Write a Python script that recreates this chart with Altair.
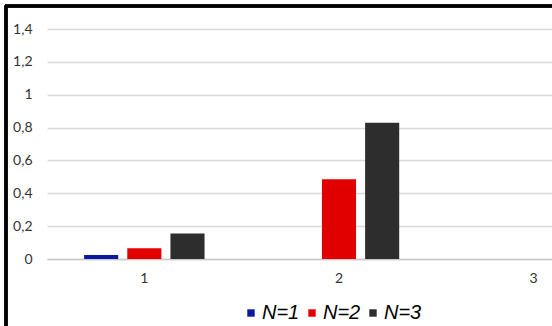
import altair as alt
import pandas as pd

# Categories on the x axis and the three series
categories = ["1", "2", "3"]
series = ["N=1", "N=2", "N=3"]
colors = ["#0A1AA0", "#E00000", "#2D2D2D"]

# Bar heights per series, one value per category
values_n1 = [0.025, 0.0, 0.0]
values_n2 = [0.065, 0.485, 0.0]
values_n3 = [0.155, 0.83, 0.0]

rows = []
for name, vals in zip(series, [values_n1, values_n2, values_n3]):
    for cat, v in zip(categories, vals):
        rows.append({"cat": cat, "series": name, "value": v})
df = pd.DataFrame(rows)

W, H = 507, 230

bars = alt.Chart(df).mark_bar().encode(
    x=alt.X(
        "cat:N",
        sort=categories,
        scale=alt.Scale(range=[2, 586], paddingInner=0, paddingOuter=0),
        axis=alt.Axis(
            title=None, labelAngle=0, ticks=False, domain=True,
            domainColor="#C8C8C8", domainWidth=1.3,
            labelFont="Lato", labelFontSize=14, labelColor="#333333",
            labelPadding=12,
        ),
    ),
    xOffset=alt.XOffset("series:N", sort=series,
                        scale=alt.Scale(paddingInner=0.21, paddingOuter=0.86)),
    y=alt.Y(
        "value:Q",
        scale=alt.Scale(domain=[0, 1.4], nice=False),
        axis=alt.Axis(
            title=None, values=[0, 0.2, 0.4, 0.6, 0.8, 1.0, 1.2, 1.4],
            format=".1~f", labelExpr="replace(datum.label, '.', ',')",
            domain=False, ticks=False, grid=True,
            gridColor="#D9D9D9", gridWidth=1.3,
            labelFont="Lato", labelFontSize=14, labelColor="#333333",
            labelPadding=13,
        ),
    ),
    color=alt.Color(
        "series:N", sort=series,
        scale=alt.Scale(domain=series, range=colors),
        legend=alt.Legend(
            title=None, orient="none", direction="horizontal",
            legendX=196, legendY=274,
            symbolType="square", symbolSize=55, symbolStrokeWidth=0,
            labelFont="Liberation Sans", labelFontSize=20,
            labelFontStyle="italic", labelColor="#000000",
            labelOffset=1, columnPadding=2,
        ),
    ),
)

# Chart-area frame along the left and top edges
frame_left = alt.Chart(df).mark_rule(color="#000000", strokeWidth=2.5).encode(
    x=alt.value(-39), y=alt.value(-23.5), y2=alt.value(H + 80)
)
frame_top = alt.Chart(df).mark_rule(color="#000000", strokeWidth=2.5).encode(
    x=alt.value(-40), x2=alt.value(W + 10), y=alt.value(-23)
)

chart = alt.layer(bars, frame_left, frame_top).properties(
    width=W, height=H,
    autosize=alt.AutoSizeParams(type="none"),
    padding={"left": 45, "top": 29, "right": 0, "bottom": 67},
    background="#FFFFFF",
).configure_view(stroke=None)

chart.save("out.html", embed_options={"renderer": "svg", "actions": False})
